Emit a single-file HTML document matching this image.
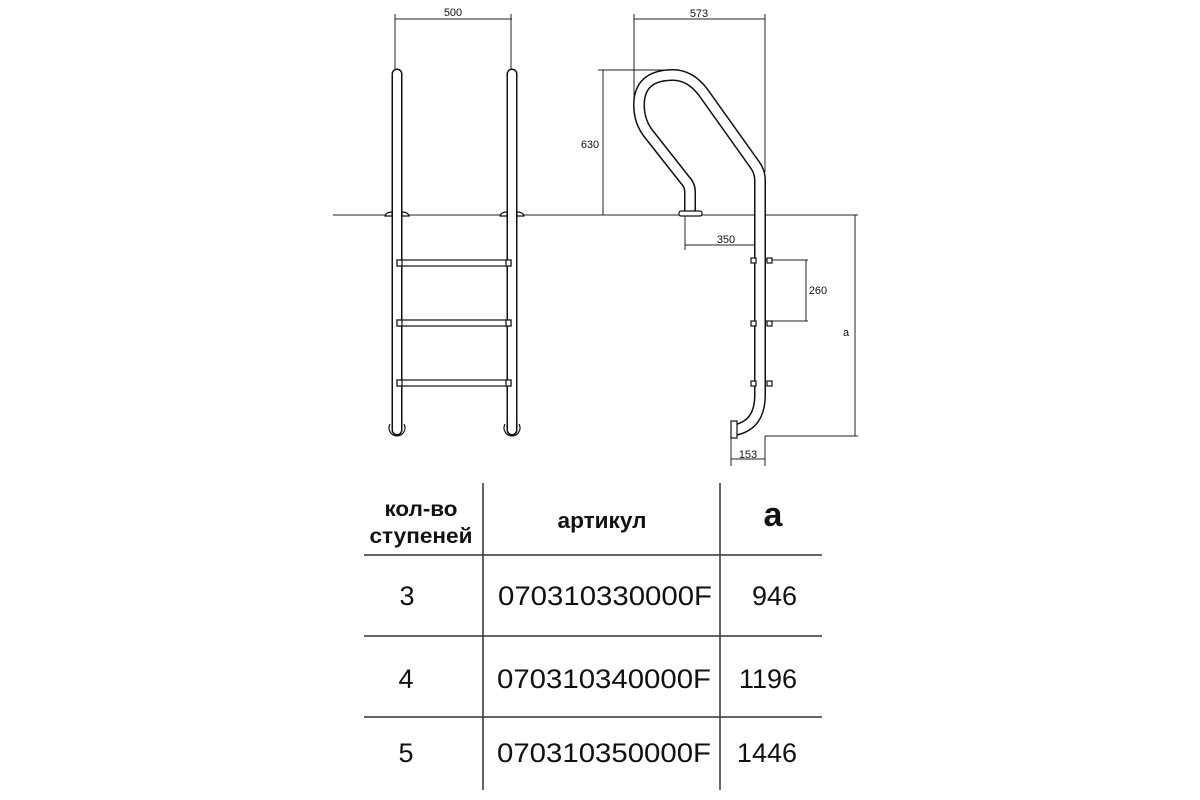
<!DOCTYPE html>
<html><head><meta charset="utf-8"><style>
html,body{margin:0;padding:0;background:#fff;}
svg{display:block}
text{font-family:"Liberation Sans",sans-serif;fill:#111}
</style></head><body>
<svg width="1200" height="800" viewBox="0 0 1200 800" xmlns="http://www.w3.org/2000/svg">
<g stroke="#222" stroke-width="1" fill="none">
<line x1="333" y1="215" x2="858" y2="215"/>
<line x1="395" y1="19" x2="512" y2="19"/>
<line x1="395" y1="14" x2="395" y2="70"/>
<line x1="511" y1="14" x2="511" y2="70"/>
<line x1="634" y1="19" x2="765" y2="19"/>
<line x1="634" y1="14" x2="634" y2="105"/>
<line x1="765" y1="14" x2="765" y2="172"/>
<line x1="603" y1="70" x2="603" y2="215"/>
<line x1="598" y1="70" x2="670" y2="70"/>
<line x1="685" y1="215" x2="685" y2="250"/>
<line x1="685" y1="245" x2="765" y2="245"/>
<line x1="765" y1="260" x2="808" y2="260"/>
<line x1="765" y1="321" x2="808" y2="321"/>
<line x1="806" y1="260" x2="806" y2="321"/>
<line x1="765" y1="436" x2="858" y2="436"/>
<line x1="855" y1="215" x2="855" y2="436"/>
<line x1="731" y1="436" x2="731" y2="466"/>
<line x1="765" y1="436" x2="765" y2="466"/>
<line x1="731" y1="459" x2="765" y2="459"/>
</g>
<g fill="none">
<path d="M397,430 L397,74" stroke="#111" stroke-width="11" stroke-linecap="round"/>
<path d="M397,430 L397,74" stroke="#fff" stroke-width="8" stroke-linecap="round"/>
<path d="M512,430 L512,74" stroke="#111" stroke-width="11" stroke-linecap="round"/>
<path d="M512,430 L512,74" stroke="#fff" stroke-width="8" stroke-linecap="round"/>
</g>
<g stroke="#111" stroke-width="1.2" fill="#fff">
<path d="M385,216 Q386,212 392,212 L392,216 Z"/><path d="M402,212 Q408,212 409,216 L402,216 Z"/>
<path d="M500,216 Q501,212 507,212 L507,216 Z"/><path d="M517,212 Q523,212 524,216 L517,216 Z"/>
<rect x="397" y="260" width="114" height="6"/>
<rect x="397" y="320" width="114" height="6"/>
<rect x="397" y="380" width="114" height="6"/>
<rect x="397" y="260" width="5" height="6"/><rect x="506" y="260" width="5" height="6"/>
<rect x="397" y="320" width="5" height="6"/><rect x="506" y="320" width="5" height="6"/>
<rect x="397" y="380" width="5" height="6"/><rect x="506" y="380" width="5" height="6"/>
<path d="M390,424 A8,8 0 1 0 404,424" fill="none"/>
<path d="M505,424 A8,8 0 1 0 519,424" fill="none"/>
</g>
<g fill="none" stroke-linejoin="round">
<path d="M690,212 L690,192 Q690,185 685,180 L648,133 Q639,121 639,105 Q639,75 673,75 Q690,75 703,92 L755,165 Q760,172 760,180 L760,395 Q760,425 735,430" stroke="#111" stroke-width="12"/>
<path d="M690,212 L690,192 Q690,185 685,180 L648,133 Q639,121 639,105 Q639,75 673,75 Q690,75 703,92 L755,165 Q760,172 760,180 L760,395 Q760,425 735,430" stroke="#fff" stroke-width="9"/>
</g>
<g stroke="#111" stroke-width="1.2" fill="#fff">
<rect x="679" y="211" width="23" height="5" rx="2"/>
<rect x="731" y="421" width="6" height="17"/>
<rect x="751" y="258" width="5" height="5"/><rect x="767" y="258" width="5" height="5"/>
<rect x="751" y="321" width="5" height="5"/><rect x="767" y="321" width="5" height="5"/>
<rect x="751" y="381" width="5" height="5"/><rect x="767" y="381" width="5" height="5"/>
</g>
<g font-size="11">
<text x="453" y="16" text-anchor="middle">500</text>
<text x="699" y="17" text-anchor="middle">573</text>
<text x="590" y="148" text-anchor="middle">630</text>
<text x="726" y="243" text-anchor="middle">350</text>
<text x="818" y="294" text-anchor="middle">260</text>
<text x="846" y="336" text-anchor="middle">a</text>
<text x="748" y="458" text-anchor="middle">153</text>
</g>
<g stroke="#333" stroke-width="1.5">
<line x1="483" y1="483" x2="483" y2="790"/>
<line x1="720" y1="483" x2="720" y2="790"/>
<line x1="364" y1="555" x2="822" y2="555"/>
<line x1="364" y1="636" x2="822" y2="636"/>
<line x1="364" y1="717" x2="822" y2="717"/>
</g>
<g font-weight="bold">
<text x="421" y="516" font-size="21" text-anchor="middle" textLength="73" lengthAdjust="spacingAndGlyphs">кол-во</text>
<text x="421" y="543" font-size="21" text-anchor="middle" textLength="103" lengthAdjust="spacingAndGlyphs">ступеней</text>
<text x="602" y="528" font-size="22" text-anchor="middle" textLength="89" lengthAdjust="spacingAndGlyphs">артикул</text>
<text x="773" y="526" font-size="34" text-anchor="middle">a</text>
</g>
<g font-size="27">
<text x="407" y="605" text-anchor="middle">3</text>
<text x="406" y="688" text-anchor="middle">4</text>
<text x="406" y="762" text-anchor="middle">5</text>
<text x="498" y="605" textLength="214" lengthAdjust="spacingAndGlyphs">070310330000F</text>
<text x="497" y="688" textLength="214" lengthAdjust="spacingAndGlyphs">070310340000F</text>
<text x="497" y="762" textLength="214" lengthAdjust="spacingAndGlyphs">070310350000F</text>
<text x="797" y="605" text-anchor="end">946</text>
<text x="797" y="688" text-anchor="end">1196</text>
<text x="797" y="762" text-anchor="end">1446</text>
</g>
</svg>
</body></html>
